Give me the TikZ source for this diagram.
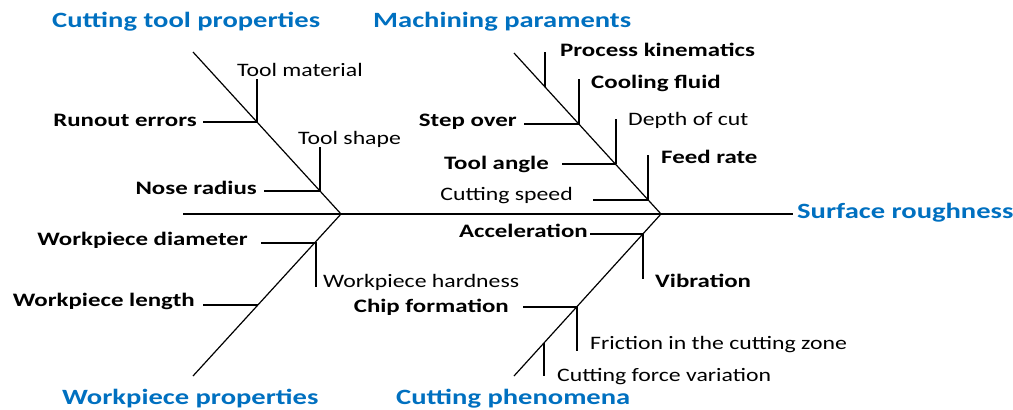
\documentclass[tikz,border=0pt]{standalone}
\usepackage{fontspec}
\setmainfont{Carlito}[FakeStretch=1.25, BoldFeatures={FakeStretch=1.31}]
\definecolor{hblue}{RGB}{0,112,192}
\begin{document}
\begin{tikzpicture}[x=1pt,y=-1pt,
  bone/.style={line width=1.2pt, black},
  lbl/.style={font=\fontsize{19}{20}\selectfont, inner sep=0pt, text height=0.7em, text depth=0.2em, yshift=-4pt},
  blbl/.style={lbl, font=\fontsize{19}{20}\selectfont\bfseries},
  head/.style={font=\fontsize{21.8}{23}\selectfont\bfseries, text=hblue, inner sep=0pt, text height=0.7em, text depth=0.2em, yshift=-4pt}]
\useasboundingbox (0,0) rectangle (1013,410);
% spine and bones
\coordinate (tail) at (183,214);
\coordinate (J1) at (341,214);
\coordinate (J2) at (661,214);
\coordinate (A1) at (193,52);
\coordinate (A2) at (193,376);
\coordinate (A3) at (514,53);
\coordinate (A4) at (514,376);
\coordinate (srl) at (793,214);
\node[head, anchor=west] (sr) at (797,212) {Surface roughness};
\draw[bone] (tail) -- (srl);
\draw[bone] (A1) -- (J1) -- (A2);
\draw[bone] (A3) -- (J2) -- (A4);
% headings
\node[head, anchor=west] (h1) at (52,21) {Cutting tool properties};
\node[head, anchor=west] (h2) at (373,21) {Machining paraments};
\node[head, anchor=west] (h3) at (62,398) {Workpiece properties};
\node[head, anchor=west] (h4) at (396,398) {Cutting phenomena};
% junctions on bones
\coordinate (a1) at (257,122);
\coordinate (a2) at (320,191);
\coordinate (b1) at (316,243);
\coordinate (b2) at (258,305);
\coordinate (c1) at (545,87);
\coordinate (c2) at (579,124);
\coordinate (c3) at (616,164);
\coordinate (c4) at (648,200);
\coordinate (d1) at (643,234);
\coordinate (d2) at (577,307);
\coordinate (d3) at (544,343);
% free ends of branches
\coordinate (a1t) at (257,79);
\coordinate (a1s) at (203,122);
\coordinate (a2t) at (320,147);
\coordinate (a2s) at (264,191);
\coordinate (b1s) at (261,243);
\coordinate (b1b) at (316,287);
\coordinate (b2s) at (203,305);
\coordinate (c1t) at (545,52);
\coordinate (c2t) at (579,79);
\coordinate (c2s) at (524,124);
\coordinate (c3t) at (616,119);
\coordinate (c3s) at (562,164);
\coordinate (c4t) at (648,155);
\coordinate (c4s) at (593,200);
\coordinate (d1s) at (590,234);
\coordinate (d1b) at (643,279);
\coordinate (d2s) at (523,307);
\coordinate (d2b) at (577,351);
\coordinate (d3b) at (544,376);
\draw[bone] (a1t) -- (a1) (a1s) -- (a1);
\draw[bone] (a2t) -- (a2) (a2s) -- (a2);
\draw[bone] (b1s) -- (b1) -- (b1b);
\draw[bone] (b2s) -- (b2);
\draw[bone] (c1t) -- (c1);
\draw[bone] (c2t) -- (c2) (c2s) -- (c2);
\draw[bone] (c3t) -- (c3) (c3s) -- (c3);
\draw[bone] (c4t) -- (c4) (c4s) -- (c4);
\draw[bone] (d1s) -- (d1) -- (d1b);
\draw[bone] (d2s) -- (d2) -- (d2b);
\draw[bone] (d3) -- (d3b);
% labels
\node[lbl, anchor=west] (tm) at (237,70) {Tool material};
\node[blbl, anchor=east] (ro) at (197,120) {Runout errors};
\node[lbl, anchor=west] (ts) at (298,138) {Tool shape};
\node[blbl, anchor=east] (nr) at (257,188) {Nose radius};
\node[blbl, anchor=east] (wd) at (248,239) {Workpiece diameter};
\node[lbl, anchor=west] (wh) at (323,281) {Workpiece hardness};
\node[blbl, anchor=east] (wl) at (195,300) {Workpiece length};
\node[blbl, anchor=west] (pk) at (560,50) {Process kinematics};
\node[blbl, anchor=west] (cf) at (591,82) {Cooling fluid};
\node[blbl, anchor=east] (so) at (517,120) {Step over};
\node[lbl, anchor=west] (dc) at (628,119) {Depth of cut};
\node[blbl, anchor=east] (ta) at (549,163) {Tool angle};
\node[blbl, anchor=west] (fr) at (661,157) {Feed rate};
\node[lbl, anchor=east] (cs) at (573,194) {Cutting speed};
\node[blbl, anchor=east] (ac) at (588,231) {Acceleration};
\node[blbl, anchor=west] (vb) at (655,281) {Vibration};
\node[blbl, anchor=east] (ch) at (509,306) {Chip formation};
\node[lbl, anchor=west] (fz) at (590,343) {Friction in the cutting zone};
\node[lbl, anchor=west] (fv) at (557,375) {Cutting force variation};
\end{tikzpicture}
\end{document}
